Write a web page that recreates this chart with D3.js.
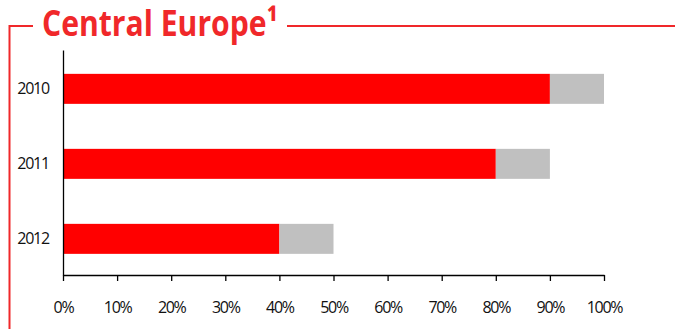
<!DOCTYPE html>
<html>
<head>
<meta charset="utf-8">
<script src="https://cdn.jsdelivr.net/npm/d3@7"></script>
<style>
  html, body { margin: 0; padding: 0; background: #fff; }
  svg { display: block; }
  text { font-family: "Open Sans", "Noto Sans", sans-serif; }
</style>
</head>
<body>
<svg id="chart" width="675" height="329"></svg>
<script>
// Share by year: red segment and grey remainder (percent)
const years = ["2010", "2011", "2012"];
const redValues = [90, 80, 40];
const greyValues = [10, 10, 10];
const xTicks = [0, 10, 20, 30, 40, 50, 60, 70, 80, 90, 100];
const titleText = "Central Europe¹";

const svg = d3.select("#chart");
const W = 675, H = 329;
const margin = { left: 63, right: 71, top: 50, bottom: 54 };

const x = d3.scaleLinear().domain([0, 100]).range([margin.left, W - margin.right]);
const y = d3.scaleBand().domain(years).range([margin.top, H - margin.bottom])
  .paddingInner(0.6).paddingOuter(0.3).align(0.53);

const rows = years.map((yr, i) => ({ year: yr, red: redValues[i], grey: greyValues[i] }));

// Frame: red line with gap for the title
const frame = svg.append("g").attr("stroke", "#f0282a").attr("stroke-width", 2).attr("fill", "none");
frame.append("path").attr("d", "M9.5,329 V26 H33");
frame.append("path").attr("d", "M287,26 H675");

// Title, condensed to its box
svg.append("text")
  .attr("x", 42).attr("y", 36)
  .attr("fill", "#f0282a")
  .attr("font-size", 36).attr("font-weight", 700)
  .attr("textLength", 236).attr("lengthAdjust", "spacingAndGlyphs")
  .text(titleText);

// Bars
const bars = svg.append("g");
bars.selectAll("rect.red").data(rows).join("rect")
  .attr("class", "red")
  .attr("x", x(0)).attr("y", d => y(d.year))
  .attr("width", d => x(d.red) - x(0)).attr("height", y.bandwidth())
  .attr("fill", "#ff0000");
bars.selectAll("rect.grey").data(rows).join("rect")
  .attr("class", "grey")
  .attr("x", d => x(d.red)).attr("y", d => y(d.year))
  .attr("width", d => x(d.red + d.grey) - x(d.red)).attr("height", y.bandwidth())
  .attr("fill", "#c0c0c0");

// X axis
const xAxis = svg.append("g")
  .attr("transform", `translate(0,${H - margin.bottom})`)
  .call(d3.axisBottom(x).tickValues(xTicks).tickFormat(d => d + "%").tickSize(6).tickSizeOuter(0).tickPadding(21));
xAxis.select(".domain").attr("stroke", "#000").attr("stroke-width", 1.3);
xAxis.selectAll(".tick line").attr("stroke", "#000").attr("stroke-width", 1.3);
xAxis.selectAll(".tick text").attr("font-size", 16).attr("letter-spacing", -1.3).attr("fill", "#111");

// Y axis
const yAxis = svg.append("g")
  .attr("transform", `translate(${margin.left},0)`)
  .call(d3.axisLeft(y).tickSize(0).tickPadding(14));
yAxis.select(".domain").attr("stroke", "#000").attr("stroke-width", 1.3);
yAxis.selectAll(".tick text").attr("font-size", 16).attr("letter-spacing", -1.2).attr("fill", "#111");
</script>
</body>
</html>
